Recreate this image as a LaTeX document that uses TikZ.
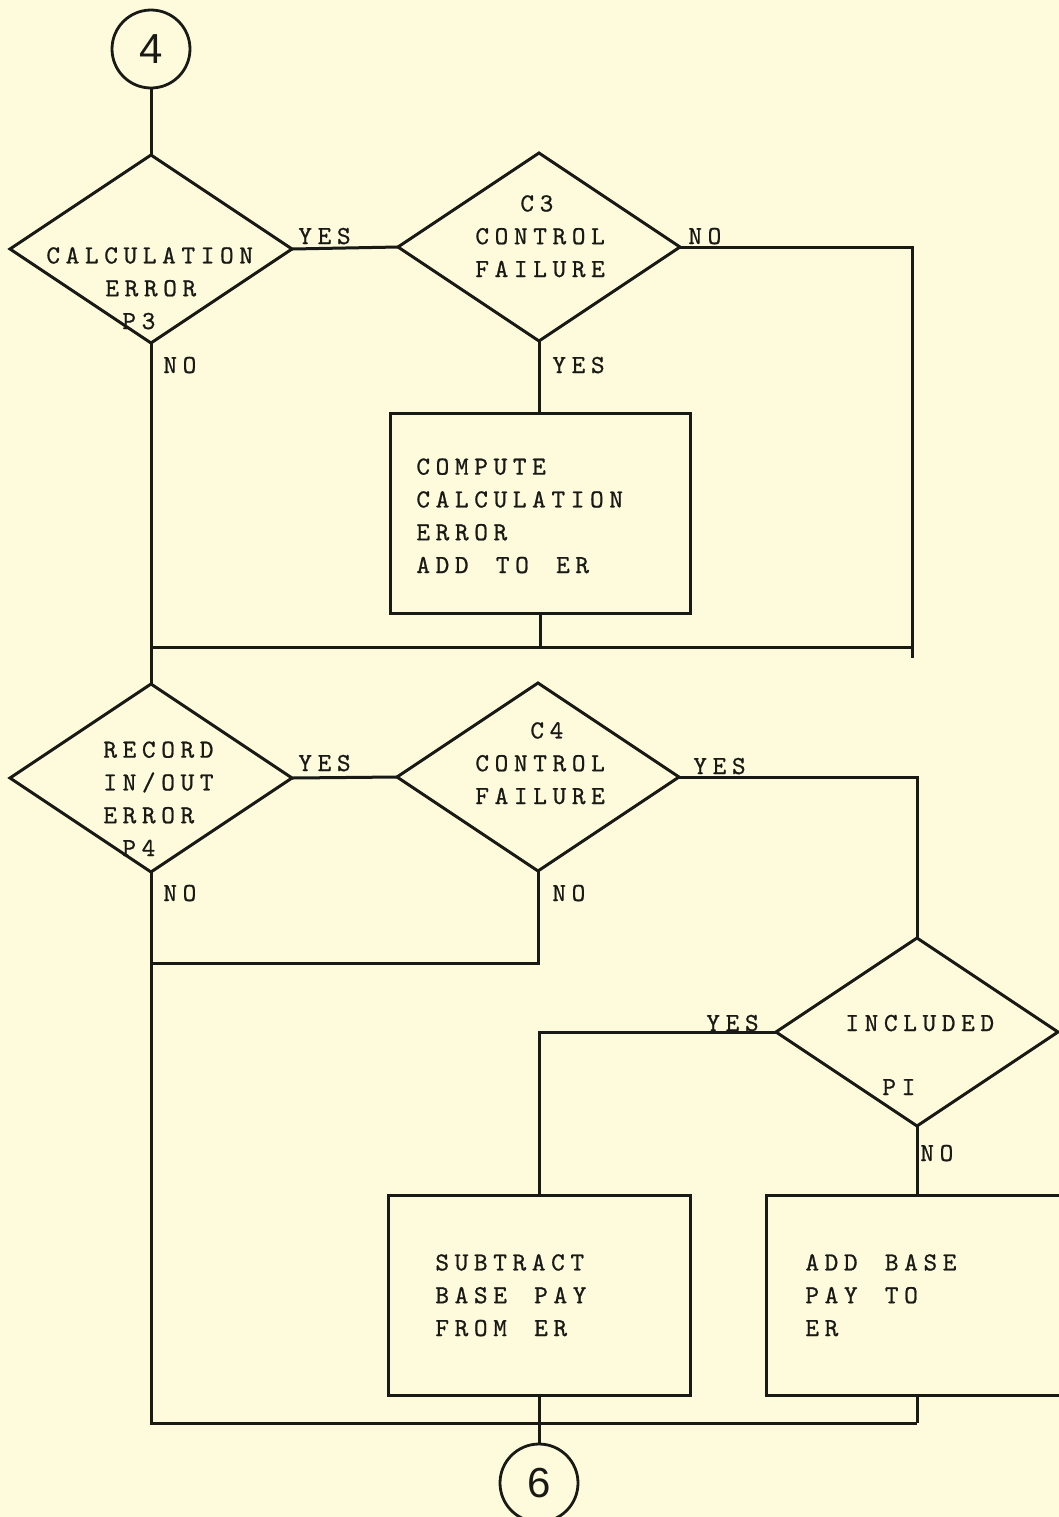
\documentclass[tikz,border=0pt]{standalone}
\usepackage{fontspec}
\usetikzlibrary{shapes.geometric}
\newfontfamily\typefont[LetterSpace=21.7, WordSpace=1.414, FakeBold=0.8]{lmmono10-regular.otf}
\newfontfamily\digitfont{Liberation Sans}
\definecolor{paper}{RGB}{253,251,220}
\definecolor{ink}{RGB}{25,25,22}
\tikzset{
  flow/.style={line width=1.5pt, draw=ink},
  conn/.style={circle, draw=ink, line width=1.4pt, minimum size=39pt, inner sep=0pt, outer sep=0pt,
    font=\fontsize{21pt}{21pt}\selectfont\digitfont, text=ink},
  dec/.style={diamond, draw=ink, line width=1.5pt, minimum width=141pt, minimum height=94pt, inner sep=0pt, outer sep=0pt},
  proc/.style={rectangle, draw=ink, line width=1.5pt, minimum height=100pt, inner sep=0pt, outer sep=0pt},
  % multi-line texts are placed by the baseline of their last line
  txt/.style={align=left, anchor=base west, inner sep=0pt, text=ink,
    font=\fontsize{13pt}{16.4pt}\selectfont\typefont},
  lbl/.style={anchor=base west, inner sep=0pt, text=ink,
    font=\fontsize{13pt}{16.4pt}\selectfont\typefont},
}
\begin{document}
\begin{tikzpicture}[x=0.5pt, y=-0.5pt]
  % sheet
  \fill[paper] (0,0) rectangle (1059,1517);
  \useasboundingbox (0,0) rectangle (1059,1517);

  % connectors at entry and exit
  \node[conn] (n4) at (151,49) {4};
  \node[conn] (n6) at (539,1483) {6};

  % decisions
  \node[dec] (d1) at (151,249) {};
  \node[dec] (c3) at (539,247) {};
  \node[dec] (d2) at (151,778) {};
  \node[dec] (c4) at (538,777) {};
  \node[dec] (inc) at (917,1032) {};

  % processes
  \node[proc, minimum width=150pt] (box1) at (540,513) {};
  \node[proc, minimum width=151pt] (sub) at (539,1295) {};
  \node[proc, minimum width=167pt] (add) at (933,1295) {};

  % texts inside the shapes
  \node[txt] (t1) at (46,329) {CALCULATION\\\hspace*{29.5pt}ERROR\\\hspace*{38pt}P3};
  \node[txt] (t2) at (475,277) {\hspace*{22.5pt}C3\\CONTROL\\FAILURE};
  \node[txt] (t3) at (416,573) {COMPUTE\\CALCULATION\\ERROR\\ADD TO ER};
  \node[txt] (t4) at (103,856) {RECORD\\IN/OUT\\ERROR\\\hspace*{9.5pt}P4};
  \node[txt] (t5) at (475,804) {\hspace*{27.5pt}C4\\CONTROL\\FAILURE};
  \node[lbl] (t6) at (845,1031) {INCLUDED};
  \node[lbl] (t7) at (882,1095) {PI};
  \node[txt] (t8) at (435,1336) {SUBTRACT\\BASE PAY\\FROM ER};
  \node[txt] (t9) at (805,1336) {ADD BASE\\PAY TO\\ER};

  % junction points
  \coordinate (j1l) at (151,647);
  \coordinate (j1r) at (912,647);
  \coordinate (r1b) at (912,658);
  \coordinate (j2) at (151,963);
  \coordinate (j3l) at (151,1423);
  \coordinate (j3r) at (inc.south |- j3l);

  % flow lines
  \draw[flow] (n4.south) -- (d1.north);
  \draw[flow] (d1.east) -- (c3.west);
  \draw[flow] (c3.east) -| (r1b);
  \draw[flow] (c3.south) -- (c3.south |- box1.north);
  \draw[flow] (box1.south) -- (box1.south |- j1l);
  \draw[flow] (j1l) -- (j1r);
  \draw[flow] (d1.south) -- (d2.north);
  \draw[flow] (d2.east) -- (c4.west);
  \draw[flow] (c4.east) -| (inc.north);
  \draw[flow] (c4.south) |- (j2);
  \draw[flow] (d2.south) -- (j3l) -- (j3r);
  \draw[flow] (inc.west) -| (sub.north);
  \draw[flow] (inc.south) -- (inc.south |- add.north);
  \draw[flow] (inc.south |- add.south) -- (j3r);
  \draw[flow] (sub.south) -- (n6.north);

  % branch labels
  \node[lbl] (y1) at (298,244) {YES};
  \node[lbl] (n1) at (688,244) {NO};
  \node[lbl] (n2) at (163,373) {NO};
  \node[lbl] (y2) at (552,373) {YES};
  \node[lbl] (y3) at (298,771) {YES};
  \node[lbl] (y4) at (693,774) {YES};
  \node[lbl] (n3) at (163,901) {NO};
  \node[lbl] (n4l) at (552,901) {NO};
  \node[lbl] (y5) at (706,1031) {YES};
  \node[lbl] (n5) at (920,1161) {NO};
\end{tikzpicture}
\end{document}
